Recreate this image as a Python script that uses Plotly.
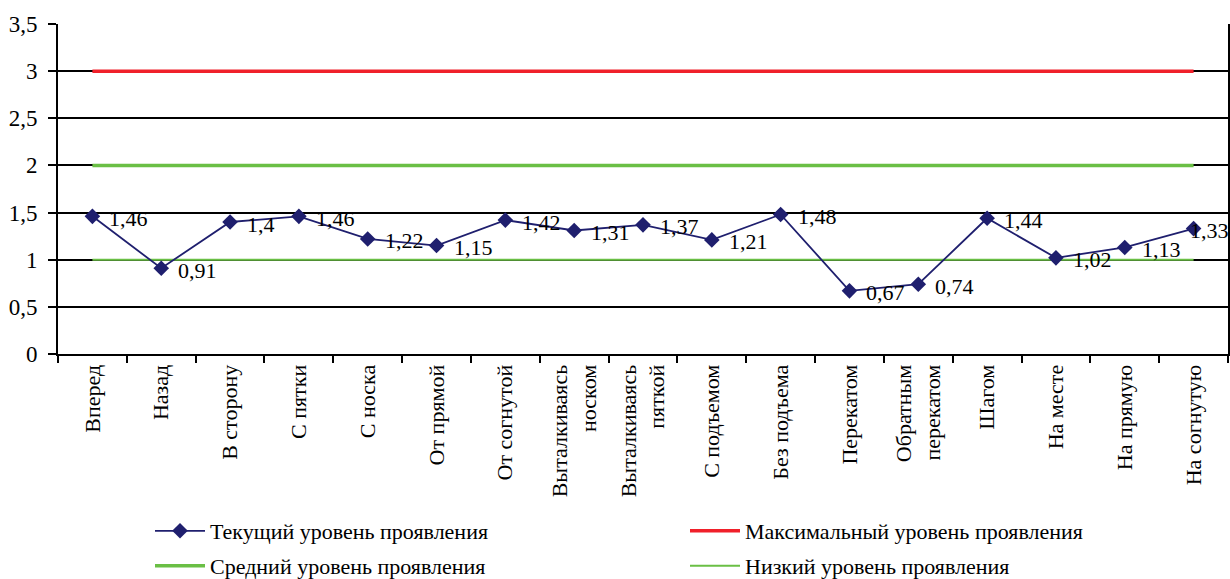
import plotly.graph_objects as go

categories = [
    "Вперед", "Назад", "В сторону", "С пятки", "С носка", "От прямой",
    "От согнутой", "Выталкиваясь<br>носком", "Выталкиваясь<br>пяткой",
    "С подъемом", "Без подъема", "Перекатом", "Обратным<br>перекатом",
    "Шагом", "На месте", "На прямую", "На согнутую",
]
current_level = [1.46, 0.91, 1.4, 1.46, 1.22, 1.15, 1.42, 1.31, 1.37,
                 1.21, 1.48, 0.67, 0.74, 1.44, 1.02, 1.13, 1.33]
value_labels = ["1,46", "0,91", "1,4", "1,46", "1,22", "1,15", "1,42", "1,31", "1,37",
                "1,21", "1,48", "0,67", "0,74", "1,44", "1,02", "1,13", "1,33"]
max_level = 3
mid_level = 2
low_level = 1
y_ticks = [0, 0.5, 1, 1.5, 2, 2.5, 3, 3.5]
y_tick_text = ["0", "0,5", "1", "1,5", "2", "2,5", "3", "3,5"]

FONT = "Times New Roman, Liberation Serif, serif"
NAVY = "#1f1f6e"
RED = "#f0202a"
GREEN = "#6abf45"

x_ends = [categories[0], categories[-1]]

fig = go.Figure()
fig.add_trace(go.Scatter(
    x=x_ends, y=[max_level, max_level], mode="lines",
    name="Максимальный уровень проявления", legend="legend", legendrank=2,
    line=dict(color=RED, width=3.5),
))
fig.add_trace(go.Scatter(
    x=x_ends, y=[mid_level, mid_level], mode="lines",
    name="Средний уровень проявления", legend="legend2", legendrank=3,
    line=dict(color=GREEN, width=3.5),
))
fig.add_trace(go.Scatter(
    x=x_ends, y=[low_level, low_level], mode="lines",
    name="Низкий уровень проявления", legend="legend2", legendrank=4,
    line=dict(color=GREEN, width=2),
))
fig.add_trace(go.Scatter(
    x=categories, y=current_level, mode="lines+markers",
    name="Текущий уровень проявления", legend="legend", legendrank=1,
    line=dict(color=NAVY, width=1.8),
    marker=dict(symbol="diamond", size=12, color=NAVY),
))

# value labels next to each point; the last one is pulled left to stay inside
for i, (cat, val, lab) in enumerate(zip(categories, current_level, value_labels)):
    last = i == len(categories) - 1
    fig.add_annotation(
        x=cat, y=val, text=lab, showarrow=False,
        xanchor="left", yanchor="middle",
        xshift=-6 if last else 15, yshift=-2,
        font=dict(family=FONT, size=22, color="black"),
    )

legend_style = dict(
    orientation="h", xref="container", xanchor="left",
    yref="container", yanchor="middle",
    entrywidth=470, entrywidthmode="pixels",
    traceorder="normal", font=dict(family=FONT, size=22),
    itemwidth=50, bgcolor="rgba(0,0,0,0)",
)
fig.update_layout(
    width=1230, height=579,
    margin=dict(l=58, r=2, t=24, b=225),
    plot_bgcolor="white", paper_bgcolor="white",
    font=dict(family=FONT, size=22, color="black"),
    showlegend=True,
    legend=dict(legend_style, x=150 / 1230, y=1 - 531 / 579),
    legend2=dict(legend_style, x=150 / 1230, y=1 - 566 / 579),
)
fig.update_xaxes(
    type="category", categoryorder="array", categoryarray=categories,
    range=[-0.5, len(categories) - 0.5], automargin=False,
    tickangle=-90, tickson="boundaries", ticks="outside", ticklen=7,
    tickcolor="black", tickwidth=1.5,
    showline=True, linecolor="black", linewidth=2,
    showgrid=False, tickfont=dict(family=FONT, size=22),
)
fig.update_yaxes(
    range=[0, 3.5], tickvals=y_ticks, ticktext=y_tick_text, automargin=False,
    ticks="outside", ticklen=8, tickcolor="black", tickwidth=1.5,
    ticklabelstandoff=6,
    showline=True, linecolor="black", linewidth=2, mirror=True,
    showgrid=True, gridcolor="black", gridwidth=1.5, zeroline=False,
    tickfont=dict(family=FONT, size=23),
)

fig.write_html("out.html")
